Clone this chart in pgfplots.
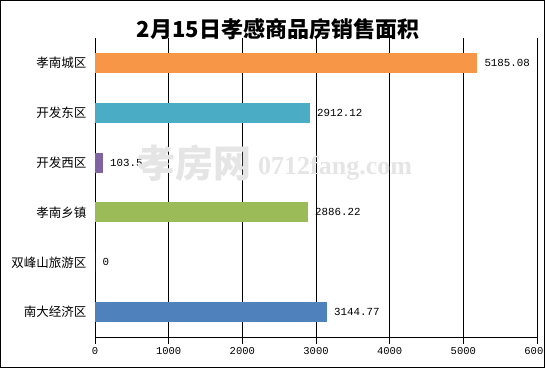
\documentclass[border=0pt]{standalone}
\usepackage{pgfplots}
\pgfplotsset{compat=1.18}
\usetikzlibrary{calc}
\usepackage{fontspec}
\newfontfamily\cjk{Noto Sans CJK SC}
\newfontfamily\mono{Liberation Mono}
\newfontfamily\wmserif{Liberation Serif}
\definecolor{cOr}{HTML}{F79646}
\definecolor{cTe}{HTML}{4BACC6}
\definecolor{cPu}{HTML}{8064A2}
\definecolor{cGr}{HTML}{9BBB59}
\definecolor{cBl}{HTML}{4F81BD}
\begin{document}
\begin{tikzpicture}[x=1pt,y=1pt]
\begin{axis}[
  scale only axis,
  width=442pt, height=299pt,
  xmin=0, xmax=6000, ymin=0.5, ymax=6.5,
  axis x line=bottom, axis y line=left,
  axis line style={-, line width=0.8pt},
  xtick={0,1000,...,6000},
  xticklabels={0,1000,2000,3000,4000,5000,6000},
  xticklabel style={font=\mono\fontsize{10.5}{12}\selectfont},
  ytick={1,...,6},
  yticklabels={南大经济区,双峰山旅游区,孝南乡镇,开发西区,开发东区,孝南城区},
  yticklabel style={font=\cjk\fontsize{12.5}{14}\selectfont, xshift=2pt},
  ytick style={draw=none},
  minor ytick={0.5,1.5,...,6.5},
  minor tick length=5pt, major tick length=7pt,
  tick align=outside,
  tick style={black, line width=0.8pt},
  minor tick style={black, line width=0.8pt},
  xmajorgrids, grid style={black, line width=0.8pt},
  xbar, bar width=20pt, bar shift=0pt,
  nodes near coords, point meta=explicit symbolic,
  nodes near coords style={font=\mono\fontsize{10.8}{12}\selectfont, anchor=west, xshift=4pt},
  clip=false,
]
\coordinate (ll) at (rel axis cs:0,0);
\addplot[fill=cOr, draw=none] coordinates {(5185.08,6) [5185.08]};
\addplot[fill=cTe, draw=none] coordinates {(2912.12,5) [2912.12]};
\addplot[fill=cPu, draw=none] coordinates {(103.5,4) [103.5]};
\addplot[fill=cGr, draw=none] coordinates {(2886.22,3) [2886.22]};
\addplot[fill=cPu, draw=none] coordinates {(0,2) [0]};
\addplot[fill=cBl, draw=none] coordinates {(3144.77,1) [3144.77]};
\end{axis}
\coordinate (o) at ($(ll)+(-95,-31)$);
\pgfresetboundingbox
\useasboundingbox (o) rectangle ($(o)+(545,368)$);
\draw[line width=1pt] ($(o)+(0.5,0.5)$) rectangle ($(o)+(544.5,367.5)$);
\node[font=\cjk\bfseries\fontsize{22}{26}\selectfont] at ($(o)+(278,339)$) {2月15日孝感商品房销售面积};
\node[text=black!10, font=\cjk\bfseries\fontsize{38}{40}\selectfont, anchor=west, inner sep=0] at ($(o)+(137,205)$) {孝房网};
\node[text=black!10, font=\wmserif\bfseries\fontsize{26}{28}\selectfont, anchor=west, inner sep=0] at ($(o)+(258,200)$) {0712fang.com};
\end{tikzpicture}
\end{document}
